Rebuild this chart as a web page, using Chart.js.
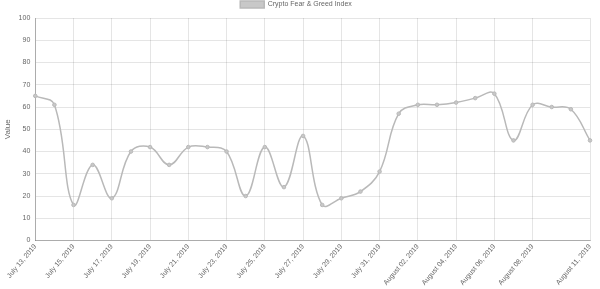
<!DOCTYPE html>
<html>
<head>
<meta charset="utf-8">
<script src="https://cdn.jsdelivr.net/npm/chart.js@4/dist/chart.umd.min.js"></script>
<style>
  html, body { margin: 0; padding: 0; background: #fff; }
  #wrap { width: 600px; height: 289px; }
</style>
</head>
<body>
<div id="wrap"><canvas id="myChart"></canvas></div>
<script>
var fechas = ["July 13, 2019", "July 14, 2019", "July 15, 2019", "July 16, 2019", "July 17, 2019",
  "July 18, 2019", "July 19, 2019", "July 20, 2019", "July 21, 2019", "July 22, 2019",
  "July 23, 2019", "July 24, 2019", "July 25, 2019", "July 26, 2019", "July 27, 2019",
  "July 28, 2019", "July 29, 2019", "July 30, 2019", "July 31, 2019", "August 01, 2019",
  "August 02, 2019", "August 03, 2019", "August 04, 2019", "August 05, 2019", "August 06, 2019",
  "August 07, 2019", "August 08, 2019", "August 09, 2019", "August 10, 2019", "August 11, 2019"];

var valores = [65, 61, 16, 34, 19, 40, 42, 34, 42, 42,
  40, 20, 42, 24, 47, 16, 19, 22, 31, 57,
  61, 61, 62, 64, 66, 45, 61, 60, 59, 45];

// etiquetas visibles en el eje x: cada dos dias hasta Aug 08, luego la ultima
function visible(i) {
  var ultimo = fechas.length - 1;
  if (i === ultimo) return true;
  return i % 2 === 0 && i < ultimo - 2;
}

Chart.defaults.font.family = "'Liberation Sans', Arial, sans-serif";
Chart.defaults.font.size = 7;
Chart.defaults.color = '#666';

var ctx = document.getElementById('myChart').getContext('2d');
var chart = new Chart(ctx, {
  type: 'line',
  data: {
    labels: fechas,
    datasets: [{
      label: "Crypto Fear & Greed Index",
      data: valores,
      fill: false,
      borderColor: 'rgb(185, 185, 185)',
      backgroundColor: 'rgb(200, 200, 200)',
      borderWidth: 1.5,
      pointRadius: 1.8,
      pointBackgroundColor: 'rgb(200, 200, 200)',
      pointBorderColor: 'rgb(185, 185, 185)',
      pointBorderWidth: 1,
      tension: 0.4
    }]
  },
  options: {
    responsive: true,
    maintainAspectRatio: false,
    animation: false,
    layout: { padding: { left: 2, right: 10, top: 0, bottom: 0 } },
    plugins: {
      legend: {
        labels: {
          boxWidth: 24,
          boxHeight: 7,
          padding: 1,
          font: { size: 7 }
        }
      },
      tooltip: { enabled: false }
    },
    scales: {
      x: {
        grid: {
          color: function (c) {
            return visible(c.index) ? 'rgba(0,0,0,0.1)' : 'rgba(0,0,0,0)';
          },
          drawTicks: false
        },
        border: { color: 'rgba(0,0,0,0.25)' },
        ticks: {
          autoSkip: false,
          minRotation: 50,
          maxRotation: 50,
          padding: 2,
          callback: function (v, i) {
            return visible(i) ? fechas[i] : '';
          }
        }
      },
      y: {
        min: 0,
        max: 100,
        ticks: { stepSize: 10, padding: 5 },
        grid: { color: 'rgba(0,0,0,0.1)', drawTicks: false },
        border: { color: 'rgba(0,0,0,0.25)' },
        title: { display: true, text: 'Value', font: { size: 8 }, padding: 1 }
      }
    }
  }
});
</script>
</body>
</html>
